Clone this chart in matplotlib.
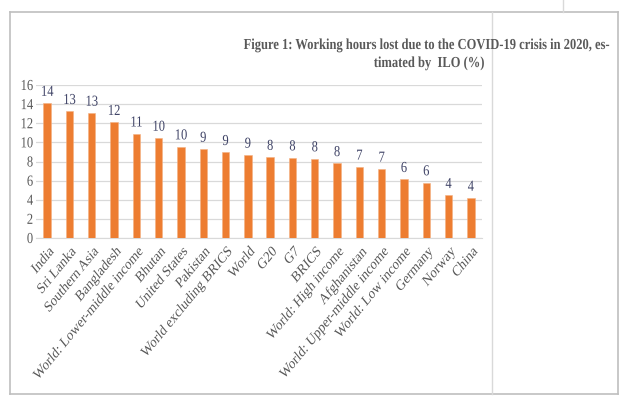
import matplotlib
matplotlib.use("Agg")
import matplotlib.pyplot as plt
from matplotlib.lines import Line2D
from matplotlib.patheffects import AbstractPathEffect
from matplotlib.transforms import Affine2D

categories = ["India", "Sri Lanka", "Southern Asia", "Bangladesh",
              "World: Lower-middle income", "Bhutan", "United States", "Pakistan",
              "World excluding BRICS", "World", "G20", "G7", "BRICS",
              "World: High income", "Afghanistan", "World: Upper-middle income",
              "World: Low income", "Germany", "Norway", "China"]
values = [14.1, 13.25, 13.07, 12.1, 10.9, 10.45, 9.55, 9.3, 8.96, 8.68,
          8.45, 8.4, 8.3, 7.8, 7.43, 7.22, 6.14, 5.79, 4.46, 4.18]
yticks = [0, 2, 4, 6, 8, 10, 12, 14, 16]
title_lines = ["Figure 1: Working hours lost due to the COVID-19 crisis in 2020, es-",
               "timated by  ILO (%)"]

plt.rcParams['font.family'] = ['Liberation Serif', 'DejaVu Serif']


class HSqueeze(AbstractPathEffect):
    """Squeeze text horizontally (in display space) about an anchor point."""
    def __init__(self, sx=0.82, anchor=0.5):
        super().__init__()
        self.sx = sx
        self.anchor = anchor

    def draw_path(self, renderer, gc, tpath, affine, rgbFace=None):
        ext = tpath.get_extents()
        lx = ext.x0 + self.anchor * (ext.x1 - ext.x0)
        px, py = affine.transform((lx, 0.0))
        t = affine + Affine2D().translate(-px, -py).scale(self.sx, 1).translate(px, py)
        renderer.draw_path(gc, tpath, t, rgbFace)


SX = 0.82
W, H = 635, 398
fig = plt.figure(figsize=(W / 100, H / 100), dpi=100)
ax = fig.add_axes([36 / W, 1 - 238 / H, (482 - 36) / W, (238 - 85) / H])

x = list(range(len(categories)))
ax.bar(x, values, width=0.33, color="#ED7D31", edgecolor="#F4B183",
       linewidth=0.4, zorder=3)
for xi, v in zip(x, values):
    ax.text(xi, v + 0.45, f"{round(v)}", ha="center", va="bottom",
            fontsize=11, color="#3f4366",
            path_effects=[HSqueeze(SX, 0.5)])

ax.set_xlim(-0.5, len(categories) - 0.5)
ax.set_ylim(0, 16)
ax.set_yticks(yticks)
ax.set_yticklabels([str(t) for t in yticks], fontsize=11, color="#595959")
ax.set_xticks(x)
ax.set_xticklabels(categories, rotation=45, ha="right", rotation_mode="anchor",
                   fontsize=11, color="#595959")
for lab in ax.get_yticklabels():
    lab.set_path_effects([HSqueeze(SX, 1.0)])
for lab in ax.get_xticklabels():
    lab.set_path_effects([HSqueeze(SX, 1.0)])
ax.tick_params(axis="x", length=0, pad=5)
ax.tick_params(axis="y", length=0, pad=2)
ax.grid(axis="y", color="#d9d9d9", linewidth=0.9, zorder=0)
for s in ["top", "right", "left"]:
    ax.spines[s].set_visible(False)
ax.spines["bottom"].set_color("#d9d9d9")
ax.set_axisbelow(True)

# Title, two lines (line 1 anchored at its right end so its extent stays inside)
fig.text(610 / W, 1 - 49 / H, title_lines[0], ha="right", va="baseline",
         fontsize=11, fontweight="bold", color="#595959",
         path_effects=[HSqueeze(SX, 1.0)])
fig.text(429 / W, 1 - 67 / H, title_lines[1], ha="center", va="baseline",
         fontsize=11, fontweight="bold", color="#595959",
         path_effects=[HSqueeze(SX, 0.5)])


def fl(x0, y0, x1, y1, c="#bfbfbf", lw=1.2):
    fig.add_artist(Line2D([x0 / W, x1 / W], [1 - y0 / H, 1 - y1 / H],
                          color=c, linewidth=lw, transform=fig.transFigure))


fl(10, 12, 618, 12)
fl(10, 12, 10, 394)
fl(10, 394, 618, 394)
fl(618, 12, 618, 394)
fl(492, 12, 492, 394, c="#d9d9d9", lw=1.0)
fl(563, 0, 563, 12, c="#d9d9d9", lw=1.0)

fig.savefig("out.png", dpi=100)
